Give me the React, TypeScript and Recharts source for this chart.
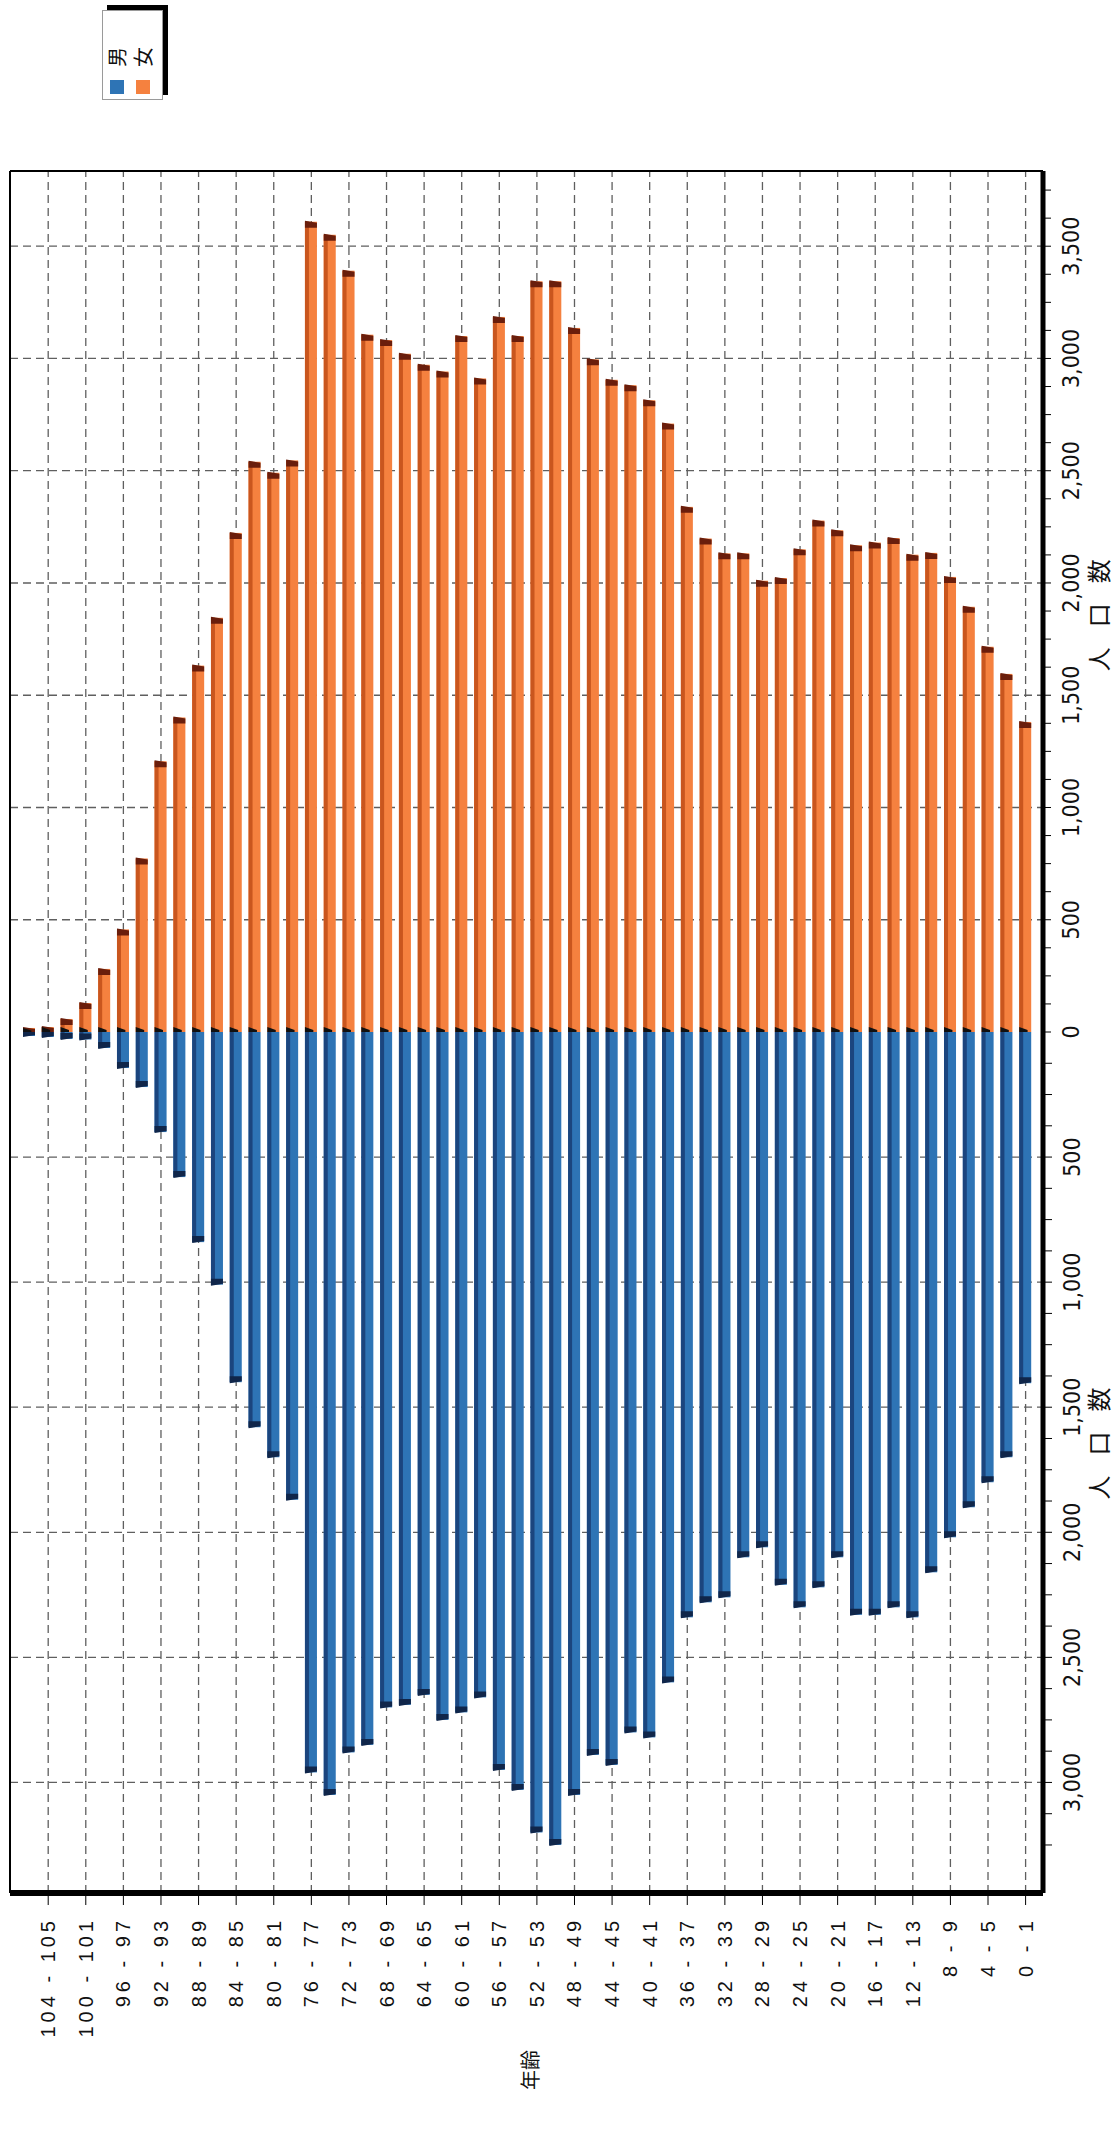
import React from "react";
import {
  BarChart,
  Bar,
  XAxis,
  YAxis,
  CartesianGrid,
  Legend,
  Label,
} from "recharts";

// age bins, top of the pyramid first
const ages = [
  "106 - 107", "104 - 105", "102 - 103", "100 - 101", "98 - 99", "96 - 97",
  "94 - 95", "92 - 93", "90 - 91", "88 - 89", "86 - 87", "84 - 85",
  "82 - 83", "80 - 81", "78 - 79", "76 - 77", "74 - 75", "72 - 73",
  "70 - 71", "68 - 69", "66 - 67", "64 - 65", "62 - 63", "60 - 61",
  "58 - 59", "56 - 57", "54 - 55", "52 - 53", "50 - 51", "48 - 49",
  "46 - 47", "44 - 45", "42 - 43", "40 - 41", "38 - 39", "36 - 37",
  "34 - 35", "32 - 33", "30 - 31", "28 - 29", "26 - 27", "24 - 25",
  "22 - 23", "20 - 21", "18 - 19", "16 - 17", "14 - 15", "12 - 13",
  "10 - 11", "8 - 9", "6 - 7", "4 - 5", "2 - 3", "0 - 1",
];

const shownAges = [
  "104 - 105", "100 - 101", "96 - 97", "92 - 93", "88 - 89", "84 - 85",
  "80 - 81", "76 - 77", "72 - 73", "68 - 69", "64 - 65", "60 - 61",
  "56 - 57", "52 - 53", "48 - 49", "44 - 45", "40 - 41", "36 - 37",
  "32 - 33", "28 - 29", "24 - 25", "20 - 21", "16 - 17", "12 - 13",
  "8 - 9", "4 - 5", "0 - 1",
];

const male = [
  16, 20, 28, 30, 64, 144, 220, 400, 580, 840,
  1010, 1400, 1580, 1700, 1870, 2960, 3050, 2880, 2850, 2700,
  2690, 2650, 2750, 2720, 2660, 2950, 3030, 3200, 3250, 3050,
  2890, 2930, 2800, 2820, 2600, 2340, 2280, 2260, 2100, 2060,
  2210, 2300, 2220, 2100, 2330, 2330, 2300, 2340, 2160, 2020,
  1900, 1800, 1700, 1404,
];

const female = [
  18, 22, 58, 129, 281, 457, 773, 1206, 1401, 1632,
  1845, 2223, 2540, 2491, 2546, 3609, 3551, 3391, 3106, 3082,
  3021, 2972, 2942, 3100, 2911, 3185, 3100, 3344, 3344, 3136,
  2996, 2905, 2881, 2814, 2710, 2339, 2198, 2132, 2132, 2010,
  2022, 2150, 2278, 2235, 2168, 2180, 2200, 2126, 2134, 2027,
  1894, 1716, 1595, 1381,
];

const legendOrder = ["男", "女"];
const femaleMajor = [500, 1000, 1500, 2000, 2500, 3000, 3500];
const maleMajor = [-500, -1000, -1500, -2000, -2500, -3000];

const range = (from: number, to: number, step: number) => {
  const out: number[] = [];
  for (let v = from; v <= to; v += step) out.push(v);
  return out;
};
const femaleTicks = range(0, 3750, 125);
const maleTicks = range(-3250, -125, 125);

const data = ages.map((age, i) => ({ age, male: -male[i], female: female[i] }));

const BLUE = "#2e74b5";
const BLUE_DARK = "#1b457e";
const BLUE_CAP = "#10264a";
const ORANGE = "#f5813f";
const ORANGE_DARK = "#c9561e";
const ORANGE_CAP = "#6a1e0c";

const NARROW = "'Liberation Sans Narrow', 'DejaVu Sans Condensed', 'Liberation Sans', sans-serif";
const SANS = "'Liberation Sans', Arial, sans-serif";
const CJK = "'Noto Sans CJK JP', sans-serif";

const femaleShape = (props: any) => {
  const { x, y, width, height } = props;
  if (width == null || height == null) return <g />;
  const left = Math.min(x, x + width);
  const w = Math.abs(width);
  const tip = left + w;
  const cap = Math.min(6, w);
  const base = Math.min(5, w);
  return (
    <g>
      <rect x={left} y={y} width={w} height={height} fill={ORANGE} />
      <rect x={left} y={y} width={w} height={4} fill={ORANGE_DARK} />
      <polygon
        points={`${tip - cap},${y} ${tip + 1},${y} ${tip - 1},${y + height} ${tip - cap},${y + height}`}
        fill={ORANGE_CAP}
      />
      <polygon
        points={`${left},${y} ${left + base},${y} ${left + base * 0.4},${y + height * 0.7} ${left},${y + height * 0.7}`}
        fill="#111"
      />
    </g>
  );
};

const maleShape = (props: any) => {
  const { x, y, width, height } = props;
  if (width == null || height == null) return <g />;
  const left = Math.min(x, x + width);
  const w = Math.abs(width);
  const cap = Math.min(6, w);
  return (
    <g>
      <rect x={left} y={y} width={w} height={height} fill={BLUE} />
      <rect x={left} y={y} width={w} height={4} fill={BLUE_DARK} />
      <polygon
        points={`${left - 1},${y} ${left + cap},${y} ${left + cap},${y + height} ${left + 1},${y + height}`}
        fill={BLUE_CAP}
      />
    </g>
  );
};

const renderAgeTick = (props: any) => {
  const { x, y, payload } = props;
  if (!shownAges.includes(payload.value)) return <g />;
  return (
    <text x={x} y={y} dy={7} textAnchor="end" fontSize={20} letterSpacing={4} fontFamily={SANS} fill="#111">
      {payload.value}
    </text>
  );
};

const renderValueTick = (props: any) => {
  const { x, y, payload } = props;
  const v = payload.value;
  if (v % 500 !== 0) return <g />;
  return (
    <text x={x} y={y} dy={20} textAnchor="middle" fontSize={23} fontFamily={NARROW} fill="#111">
      {Math.abs(v).toLocaleString("en-US")}
    </text>
  );
};

const axisTitle = (frac: number, top: number) => (props: any) => {
  const vb = props.viewBox;
  return (
    <text
      x={vb.x + vb.width * frac + 10}
      y={top}
      textAnchor="middle"
      fontSize={24}
      letterSpacing={20}
      fontFamily={CJK}
      fill="#111"
    >
      人口数
    </text>
  );
};

const ageTitle = () => (
  <text x={73} y={538} textAnchor="middle" fontSize={20} fontFamily={CJK} fill="#111">
    年齢
  </text>
);

const renderLegend = (props: any) => {
  const items = [...(props.payload || [])].sort(
    (a: any, b: any) => legendOrder.indexOf(a.value) - legendOrder.indexOf(b.value)
  );
  return (
    <div
      style={{
        width: 90,
        height: 61,
        boxSizing: "border-box",
        background: "#fff",
        border: "1px solid #9a9a9a",
        boxShadow: "5px 5px 0 #000",
        position: "relative",
        fontFamily: CJK,
        fontSize: 20,
        color: "#111",
      }}
    >
      {items.map((entry: any, i: number) => (
        <div
          key={entry.value}
          style={{ position: "absolute", left: 5, top: 3 + i * 26, height: 22, display: "flex", alignItems: "center" }}
        >
          <span style={{ display: "inline-block", width: 14, height: 14, background: entry.color }} />
          <span style={{ marginLeft: 13, lineHeight: "22px" }}>{entry.value}</span>
        </div>
      ))}
    </div>
  );
};

const App: React.FC = () => {
  return (
    <div style={{ position: "absolute", left: 0, top: 0, width: 1114, height: 2143, overflow: "hidden", background: "#fff" }}>
      <div
        style={{
          position: "absolute",
          left: 0,
          top: 0,
          width: 2143,
          height: 1114,
          transformOrigin: "0 0",
          transform: "translateY(2143px) rotate(-90deg)",
        }}
      >
        <BarChart width={2143} height={1114} data={data} layout="vertical" margin={{ top: 9, right: 170, bottom: 1, left: 0 }}>
          <CartesianGrid
            xAxisId="f"
            yAxisId="cm"
            verticalValues={femaleMajor}
            strokeDasharray="8 5"
            stroke="#5f5f5f"
            strokeWidth={1.3}
          />
          <CartesianGrid
            xAxisId="m"
            yAxisId="cm"
            horizontal={false}
            verticalValues={maleMajor}
            strokeDasharray="8 5"
            stroke="#5f5f5f"
            strokeWidth={1.3}
          />
          <XAxis
            xAxisId="f"
            type="number"
            domain={[-3835, 3835]}
            ticks={femaleTicks}
            interval={0}
            height={1}
            tickSize={8}
            tickMargin={8}
            axisLine={{ stroke: "#000", strokeWidth: 5 }}
            tickLine={{ stroke: "#000" }}
            tick={renderValueTick}
            allowDataOverflow
          >
            <Label content={axisTitle(0.742, 1108)} />
          </XAxis>
          <XAxis
            xAxisId="m"
            type="number"
            domain={[-3442, 3442]}
            ticks={maleTicks}
            interval={0}
            height={69}
            tickSize={8}
            tickMargin={8}
            axisLine={false}
            tickLine={{ stroke: "#000" }}
            tick={renderValueTick}
            allowDataOverflow
          >
            <Label content={axisTitle(0.261, 1108)} />
          </XAxis>
          <XAxis
            xAxisId="edge"
            orientation="top"
            type="number"
            domain={[0, 1]}
            height={1}
            tick={false}
            tickLine={false}
            axisLine={{ stroke: "#000", strokeWidth: 2 }}
          />
          <YAxis
            yAxisId="cm"
            type="category"
            dataKey="age"
            width={250}
            ticks={shownAges}
            interval={0}
            tickSize={12}
            tickMargin={12}
            padding={{ top: 10, bottom: 8 }}
            axisLine={{ stroke: "#000", strokeWidth: 6 }}
            tickLine={{ stroke: "#000" }}
            tick={renderAgeTick}
          >
            <Label content={ageTitle} />
          </YAxis>
          <YAxis yAxisId="cf" type="category" dataKey="age" hide width={0} padding={{ top: 10, bottom: 8 }} />
          <YAxis
            yAxisId="edge"
            orientation="right"
            type="category"
            dataKey="age"
            width={1}
            tick={false}
            tickLine={false}
            axisLine={{ stroke: "#000", strokeWidth: 2 }}
          />
          <Bar
            xAxisId="m"
            yAxisId="cm"
            dataKey="male"
            name="男"
            fill={BLUE}
            barSize={12}
            shape={maleShape}
            isAnimationActive={false}
          />
          <Bar
            xAxisId="f"
            yAxisId="cf"
            dataKey="female"
            name="女"
            fill={ORANGE}
            barSize={12}
            shape={femaleShape}
            isAnimationActive={false}
          />
          <Legend
            layout="vertical"
            align="center"
            verticalAlign="middle"
            content={renderLegend}
            wrapperStyle={{ left: 2043, top: 102, width: 90, height: 61 }}
          />
        </BarChart>
      </div>
    </div>
  );
};

export default App;
